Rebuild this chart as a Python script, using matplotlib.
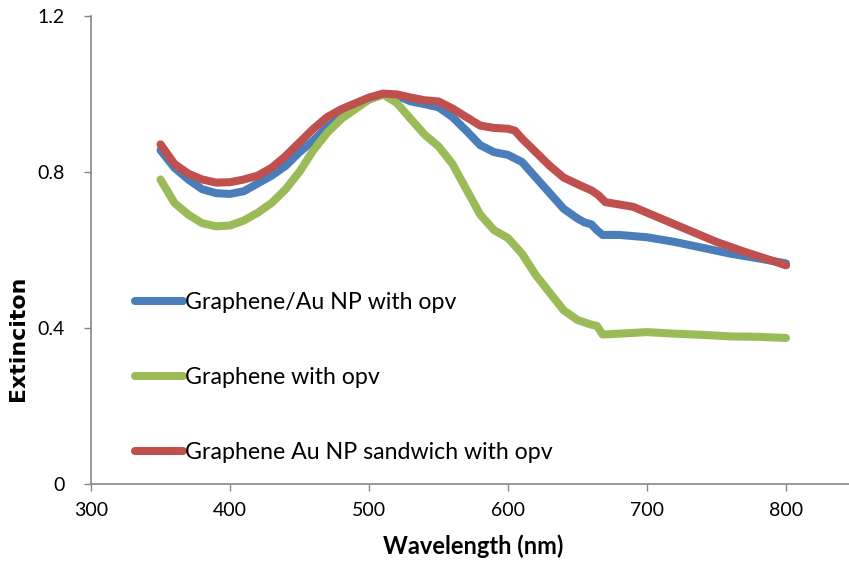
import matplotlib.pyplot as plt
import numpy as np

plt.rcParams['font.family'] = ['Lato', 'DejaVu Sans']

# wavelength grid (nm) and extinction values
wl_blue = [350, 360, 370, 380, 390, 400, 410, 420, 430, 440, 450, 460, 470, 480, 490, 500,
           510, 520, 530, 540, 550, 560, 570, 580, 590, 600, 610, 620, 630, 640, 650, 655,
           660, 664, 668, 680, 700, 720, 740, 760, 780, 800]
ext_blue = [0.855, 0.81, 0.78, 0.755, 0.745, 0.743, 0.75, 0.77, 0.79, 0.815, 0.85, 0.88, 0.915,
            0.94, 0.965, 0.985, 0.998, 0.995, 0.98, 0.973, 0.965, 0.94, 0.905, 0.868, 0.85,
            0.843, 0.825, 0.785, 0.745, 0.705, 0.68, 0.67, 0.665, 0.65, 0.638, 0.638, 0.632,
            0.62, 0.605, 0.59, 0.578, 0.565]

wl_green = [350, 360, 370, 380, 390, 400, 410, 420, 430, 440, 450, 460, 470, 480, 490, 500,
            510, 520, 530, 540, 550, 560, 570, 580, 590, 600, 610, 620, 630, 640, 650, 660,
            664, 668, 675, 700, 720, 740, 760, 780, 800]
ext_green = [0.78, 0.72, 0.69, 0.668, 0.66, 0.662, 0.675, 0.695, 0.72, 0.755, 0.8, 0.855, 0.9,
             0.935, 0.96, 0.985, 0.998, 0.976, 0.935, 0.895, 0.865, 0.82, 0.755, 0.69, 0.65,
             0.63, 0.59, 0.535, 0.49, 0.445, 0.42, 0.408, 0.405, 0.383, 0.384, 0.389, 0.385,
             0.382, 0.378, 0.377, 0.374]

wl_red = [350, 360, 370, 380, 390, 400, 410, 420, 430, 440, 450, 460, 470, 480, 490, 500,
          510, 520, 530, 540, 550, 560, 570, 580, 590, 600, 605, 610, 620, 630, 640, 650,
          660, 665, 670, 690, 710, 730, 750, 770, 790, 800]
ext_red = [0.87, 0.82, 0.795, 0.78, 0.772, 0.773, 0.78, 0.79, 0.81, 0.84, 0.875, 0.91, 0.94,
           0.96, 0.975, 0.99, 1.0, 0.998, 0.99, 0.983, 0.98, 0.962, 0.94, 0.918, 0.912, 0.91,
           0.905, 0.885, 0.85, 0.815, 0.785, 0.768, 0.752, 0.74, 0.722, 0.71, 0.68, 0.65,
           0.62, 0.595, 0.572, 0.56]

labels = ["Graphene/Au NP with opv", "Graphene with opv", "Graphene Au NP sandwich with opv"]
colors = ["#4A7EBB", "#9BBB59", "#C0504D"]

fig = plt.figure(figsize=(8.49, 5.61), dpi=100)
ax = fig.add_axes([0.1072, 0.1373, 0.9005, 0.835])

for wl, ext, lab, c in zip([wl_blue, wl_green, wl_red], [ext_blue, ext_green, ext_red], labels, colors):
    ax.plot(wl, ext, color=c, lw=5.8, solid_capstyle="round", solid_joinstyle="round", label=lab)

ax.set_xlim(300, 850)
ax.set_ylim(0, 1.2)
ax.set_xticks([300, 400, 500, 600, 700, 800])
ax.set_yticks([0, 0.4, 0.8, 1.2])
ax.set_yticklabels(["0", "0.4", "0.8", "1.2"])

for s in ["top", "right"]:
    ax.spines[s].set_visible(False)
for s in ["left", "bottom"]:
    ax.spines[s].set_color("#868686")
    ax.spines[s].set_linewidth(1.2)
ax.tick_params(colors="#868686", labelcolor="black", labelsize=14, length=5, width=1)
ax.tick_params(axis="y", pad=14)
ax.tick_params(axis="x", pad=8)

ax.set_xlabel("Wavelength (nm)", fontsize=17, fontweight="bold", labelpad=11)
ax.set_ylabel("Extinciton", fontsize=15.8, fontweight="bold", family=["DejaVu Sans"])
ax.yaxis.set_label_coords(-0.0824, 0.31)

ax.legend(loc="upper left", bbox_to_anchor=(135 / 849, 1 - 292 / 561),
          bbox_transform=fig.transFigure, frameon=False, fontsize=16.7,
          handlelength=2.05, handletextpad=0.1, labelspacing=2.33, borderpad=0,
          borderaxespad=0)

plt.savefig("out.png", dpi=100)
